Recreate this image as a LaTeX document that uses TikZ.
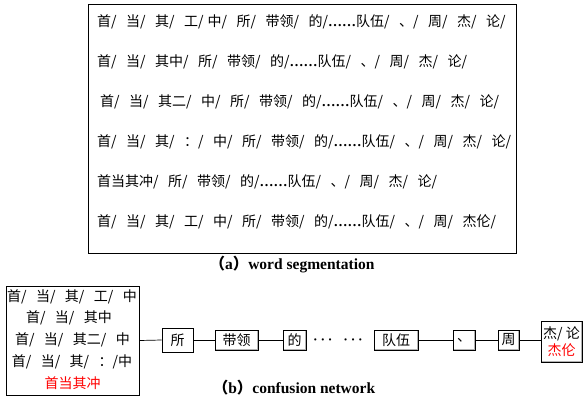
\documentclass[tikz,border=0pt]{standalone}
\usepackage{fontspec}
\setmainfont{Liberation Serif}
\newfontfamily\cjk{Noto Sans CJK SC}
\newcommand{\sk}{/\hspace{9.5pt}}
\newcommand{\dts}{{\rmfamily\bfseries ……}}
\begin{document}
\begin{tikzpicture}[x={(1pt,0)},y={(0,-1pt)},
  seg/.style={anchor=west, inner sep=0pt, font=\cjk\fontsize{14}{16}\selectfont},
  txt/.style={inner sep=0pt, font=\cjk\fontsize{14}{16}\selectfont},
  captxt/.style={inner sep=0pt, font=\fontsize{15.5}{17}\selectfont\bfseries},
  sbox/.style={draw=black, line width=0.7pt, inner sep=0pt, font=\cjk\fontsize{14}{16}\selectfont},
  dbox/.style={sbox, path picture={\draw[gray!60, line width=2pt] (path picture bounding box.south west) rectangle (path picture bounding box.north east);}},
  conn/.style={draw=black, line width=0.7pt}
]
\useasboundingbox (0,0) rectangle (583,399);

% (a) word segmentation
\node[draw=black, line width=0.8pt, minimum width=428pt, minimum height=249pt, inner sep=0pt] (abox) at (302,128.5) {};
\node[seg] (l1) at (97,22) {首\sk 当\sk 其\sk 工/\hspace{4pt}中\sk 所\sk 带领\sk 的/\dts 队伍\sk 、\sk 周\sk 杰\sk 论/};
\node[seg] (l2) at (97,62) {首\sk 当\sk 其中\sk 所\sk 带领\sk 的/\dts 队伍\sk 、\sk 周\sk 杰\sk 论/};
\node[seg] (l3) at (100,102) {首\sk 当\sk 其二\sk 中\sk 所\sk 带领\sk 的/\dts 队伍\sk 、\sk 周\sk 杰\sk 论/};
\node[seg] (l4) at (97,142) {首\sk 当\sk 其\sk ：\sk 中\sk 所\sk 带领\sk 的/\dts 队伍\sk 、\sk 周\sk 杰\sk 论/};
\node[seg] (l5) at (97,182) {首当其冲\sk 所\sk 带领\sk 的/\dts 队伍\sk 、\sk 周\sk 杰\sk 论/};
\node[seg] (l6) at (97,222) {首\sk 当\sk 其\sk 工\sk 中\sk 所\sk 带领\sk 的/\dts 队伍\sk 、\sk 周\sk 杰伦/};
\node[captxt] (capa) at (292,265) {{\cjk （}a{\cjk ）}word segmentation};

% (b) confusion network
\node[draw=black, line width=0.8pt, minimum width=133pt, minimum height=109pt, inner sep=0pt] (lb) at (72.5,340.5) {};
\node[txt] (t1) at (72,297) {首\sk 当\sk 其\sk 工\sk 中};
\node[txt] (t2) at (69,318) {首\sk 当\sk 其中};
\node[txt] (t3) at (72.5,340) {首\sk 当\sk 其二\sk 中};
\node[txt] (t4) at (72,361.5) {首\sk 当\sk 其\sk ：/中};
\node[txt, text=red] (t5) at (72.5,383) {首当其冲};

\node[sbox, minimum width=31pt, minimum height=24pt] (suo) at (177.5,340) {所};
\node[dbox, minimum width=43pt, minimum height=20pt] (dl) at (236.5,340) {带领};
\node[dbox, minimum width=23pt, minimum height=20pt] (de) at (294.5,340) {的};
\node[inner sep=0pt, font=\fontsize{15}{16}\selectfont\boldmath] (dots) at (338,340) {$\cdots$\hspace{11pt}$\cdots$};
\node[dbox, minimum width=44pt, minimum height=20pt] (dw) at (396,340) {队伍};
\node[dbox, minimum width=22pt, minimum height=20pt] (dun) at (464,340) {、};
\node[dbox, minimum width=21pt, minimum height=20pt] (zhou) at (508.5,340) {周};
\node[dbox, minimum width=41pt, minimum height=41pt, align=center, font=\cjk\fontsize{14}{17}\selectfont] (jl) at (561.5,341.5) {杰/ 论\\\textcolor{red}{杰伦}};

\draw[conn] (lb.east) -- (suo.west);
\draw[conn] (suo.east) -- (dl.west);
\draw[conn] (dl.east) -- (de.west);
\draw[conn] (dw.east) -- (dun.west);
\draw[conn] (dun.east) -- (zhou.west);
\draw[conn] (zhou.east) -- (zhou.east -| jl.west);

\node[captxt] (capb) at (294,388) {{\cjk （}b{\cjk ）}confusion network};
\end{tikzpicture}
\end{document}
